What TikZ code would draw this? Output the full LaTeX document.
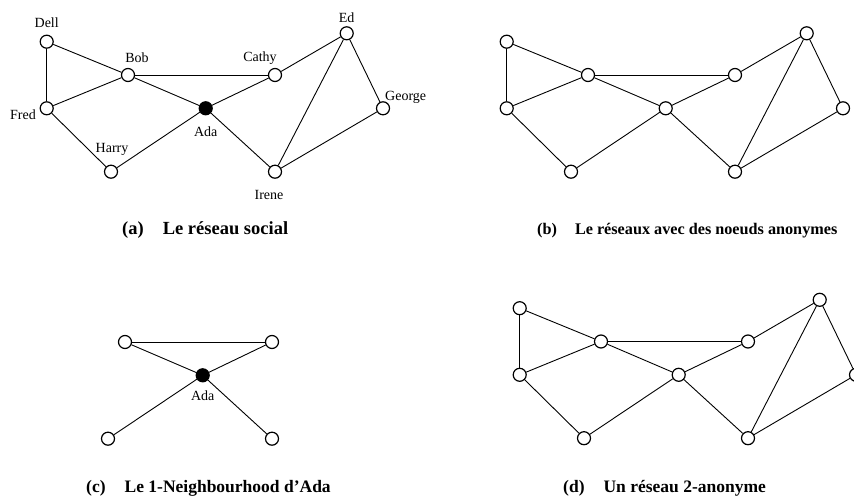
\documentclass[tikz,border=0pt]{standalone}
\usepackage{fontspec}
\setmainfont{Liberation Serif}
\tikzset{
  vtx/.style={circle,draw,line width=1.2pt,fill=white,minimum size=13pt,inner sep=0pt},
  blk/.style={vtx,fill=black},
  lbl/.style={font=\fontsize{14}{16}\selectfont,inner sep=0pt},
  captext/.style={font=\fontsize{17.5}{20}\selectfont\bfseries,inner sep=0pt,anchor=base west},
  lnk/.style={line width=0.9pt},
}
\newcommand\socialgraph[2]{%
  \node[vtx] (#1Dell)   at (46.7,41.7) {};
  \node[vtx] (#1Bob)    at (128,75) {};
  \node[vtx] (#1Cathy)  at (275,75) {};
  \node[vtx] (#1Ed)     at (346.7,33.3) {};
  \node[vtx] (#1Fred)   at (46.7,108.3) {};
  \node[#2]  (#1Ada)    at (205.7,108.3) {};
  \node[vtx] (#1George) at (383,108.3) {};
  \node[vtx] (#1Harry)  at (111,171.7) {};
  \node[vtx] (#1Irene)  at (275,171.7) {};
  \draw[lnk] (#1Dell) -- (#1Bob);
  \draw[lnk] (#1Dell) -- (#1Fred);
  \draw[lnk] (#1Fred) -- (#1Bob);
  \draw[lnk] (#1Fred) -- (#1Harry);
  \draw[lnk] (#1Bob) -- (#1Cathy);
  \draw[lnk] (#1Bob) -- (#1Ada);
  \draw[lnk] (#1Harry) -- (#1Ada);
  \draw[lnk] (#1Ada) -- (#1Cathy);
  \draw[lnk] (#1Ada) -- (#1Irene);
  \draw[lnk] (#1Cathy) -- (#1Ed);
  \draw[lnk] (#1Ed) -- (#1Irene);
  \draw[lnk] (#1Ed) -- (#1George);
  \draw[lnk] (#1George) -- (#1Irene);
}
\begin{document}
\begin{tikzpicture}[x=1pt,y=-1pt]
\useasboundingbox (0,0) rectangle (854,497);
% (a)
\socialgraph{a}{blk}
\node[lbl] (tDell)   at (46.7,23) {Dell};
\node[lbl] (tBob)    at (137,58) {Bob};
\node[lbl] (tCathy)  at (260,58) {Cathy};
\node[lbl] (tEd)     at (346.7,18) {Ed};
\node[lbl,anchor=east] (tFred) at (36,115) {Fred};
\node[lbl,anchor=west] (tGeorge) at (385,97) {George};
\node[lbl] (tAda)    at (205.7,132) {Ada};
\node[lbl] (tHarry)  at (112,149) {Harry};
\node[lbl] (tIrene)  at (269,195) {Irene};
\node[captext,font=\fontsize{18.5}{21}\selectfont\bfseries] (capA) at (122,235) {(a)\hspace{19pt}Le réseau social};
% (b)
\begin{scope}[shift={(460,0)}]
\socialgraph{b}{vtx}
\end{scope}
\node[captext,font=\fontsize{16.2}{19}\selectfont\bfseries] (capB) at (537,235) {(b)\hspace{18pt}Le réseaux avec des noeuds anonymes};
% (c)
\begin{scope}[shift={(-3,267)}]
\node[vtx] (cTL) at (128,75) {};
\node[vtx] (cTR) at (275,75) {};
\node[blk] (cAda) at (205.7,108.3) {};
\node[vtx] (cBL) at (111,171.7) {};
\node[vtx] (cBR) at (275,171.7) {};
\draw[lnk] (cTL) -- (cTR);
\draw[lnk] (cTL) -- (cAda);
\draw[lnk] (cTR) -- (cAda);
\draw[lnk] (cBL) -- (cAda);
\draw[lnk] (cBR) -- (cAda);
\node[lbl] (tcAda) at (205.7,129) {Ada};
\end{scope}
\node[captext] (capC) at (86,492) {(c)\hspace{19pt}Le 1-Neighbourhood d’Ada};
% (d)
\begin{scope}[shift={(473,266.5)}]
\socialgraph{d}{vtx}
\end{scope}
\node[captext] (capD) at (563,492) {(d)\hspace{19pt}Un réseau 2-anonyme};
\end{tikzpicture}
\end{document}
